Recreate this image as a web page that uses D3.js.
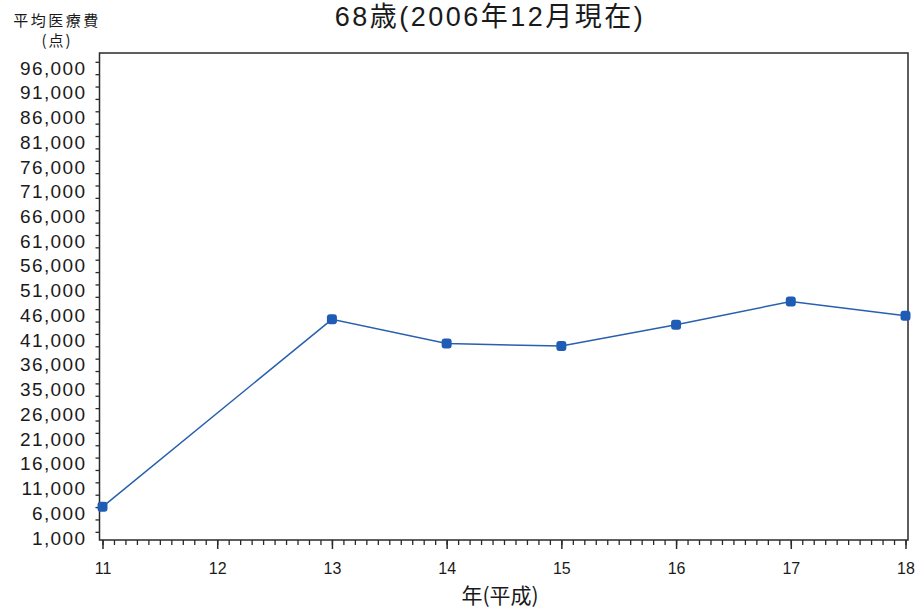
<!DOCTYPE html>
<meta charset="utf-8">
<html>
  <head>
    <script src="https://cdn.jsdelivr.net/npm/d3@7"></script>
    <style>
      body { margin: 0; background: #fff; }
    </style>
  </head>
  <body>
    <div id="chart"></div>

    <script type="text/javascript">
      // data
      var years = [11, 13, 14, 15, 16, 17, 18],
          values = [7300, 45200, 40300, 39800, 44100, 48800, 45900];

      // y labels as printed (note "35,000" stands where 31,000 would be)
      var yTickValues = [1000, 6000, 11000, 16000, 21000, 26000, 31000, 36000, 41000, 46000,
                         51000, 56000, 61000, 66000, 71000, 76000, 81000, 86000, 91000, 96000],
          yTickLabels = ["1,000", "6,000", "11,000", "16,000", "21,000", "26,000", "35,000", "36,000", "41,000", "46,000",
                         "51,000", "56,000", "61,000", "66,000", "71,000", "76,000", "81,000", "86,000", "91,000", "96,000"],
          xTickValues = [11, 12, 13, 14, 15, 16, 17, 18];

      var W = 917, H = 612,
          box = { left: 99.5, right: 908, top: 53, bottom: 540 },
          font = "'Liberation Sans', 'Noto Sans CJK JP', sans-serif",
          blue = "#1f5cb4";

      var svg = d3.select("#chart").append("svg")
          .attr("width", W)
          .attr("height", H);

      var x = d3.scaleLinear().domain([11, 18]).range([102.5, 905.5]);
      var y = d3.scaleLinear().domain([1000, 96000]).range([538, 68]);

      // frame
      svg.append("rect")
          .attr("x", box.left).attr("y", box.top)
          .attr("width", box.right - box.left)
          .attr("height", box.bottom - box.top)
          .style("fill", "none")
          .style("stroke", "#2a2a2a")
          .style("stroke-width", "1.5px");

      // y ticks (every 2,500, offset from the labels as in the original)
      var yMinor = d3.axisLeft(y)
          .tickValues(d3.range(2250, 98000, 2500))
          .tickSize(4)
          .tickFormat("");
      svg.append("g")
          .attr("transform", "translate(" + box.left + ",0)")
          .call(yMinor)
          .call(function(g){ g.select(".domain").remove(); })
          .selectAll("line").style("stroke", "#2a2a2a").style("stroke-width", "1.3px");

      // y labels
      var yLab = d3.axisLeft(y)
          .tickValues(yTickValues)
          .tickSize(0)
          .tickPadding(13)
          .tickFormat(function(d, i){ return yTickLabels[i]; });
      svg.append("g")
          .attr("transform", "translate(" + box.left + ",0)")
          .call(yLab)
          .call(function(g){ g.select(".domain").remove(); })
          .selectAll("text")
          .style("font-family", font)
          .style("font-size", "19px")
          .style("letter-spacing", "1.4px")
          .style("fill", "#1a1a1a");

      // x minor ticks
      svg.append("g")
          .attr("transform", "translate(0," + box.bottom + ")")
          .call(d3.axisBottom(x).ticks(70).tickSize(5).tickFormat(""))
          .call(function(g){ g.select(".domain").remove(); })
          .selectAll("line").style("stroke", "#2a2a2a").style("stroke-width", "1.3px");

      // x major ticks + labels
      svg.append("g")
          .attr("transform", "translate(0," + box.bottom + ")")
          .call(d3.axisBottom(x).tickValues(xTickValues).tickSize(9).tickPadding(14).tickFormat(d3.format("d")))
          .call(function(g){ g.select(".domain").remove(); })
          .call(function(g){
            g.selectAll("line").style("stroke", "#2a2a2a").style("stroke-width", "1.5px");
            g.selectAll("text")
              .style("font-family", "'Liberation Sans Narrow', 'Liberation Sans', sans-serif")
              .style("font-size", "16px")
              .style("fill", "#1a1a1a");
          });

      // line + markers
      var pts = years.map(function(d, i){ return [d, values[i]]; });
      svg.append("path")
          .datum(pts)
          .attr("d", d3.line().x(function(d){ return x(d[0]); }).y(function(d){ return y(d[1]); }))
          .style("fill", "none")
          .style("stroke", "#2860ad")
          .style("stroke-width", "1.5px");

      svg.selectAll(".mark")
          .data(pts)
          .enter().append("rect")
          .attr("class", "mark")
          .attr("x", function(d){ return x(d[0]) - 5; })
          .attr("y", function(d){ return y(d[1]) - 5; })
          .attr("width", 10).attr("height", 10)
          .attr("rx", 3)
          .style("fill", blue);

      // titles
      svg.append("text")
          .attr("x", 490).attr("y", 26)
          .style("text-anchor", "middle")
          .style("font-family", font)
          .style("font-size", "27px")
          .style("letter-spacing", "2.5px")
          .style("fill", "#1a1a1a")
          .text("68歳(2006年12月現在)");

      svg.append("text")
          .attr("x", 57).attr("y", 26)
          .style("text-anchor", "middle")
          .style("font-family", "'Noto Sans CJK JP', sans-serif")
          .style("font-size", "15px")
          .style("letter-spacing", "2.5px")
          .style("fill", "#1a1a1a")
          .text("平均医療費");

      svg.append("text")
          .attr("x", 57).attr("y", 46)
          .style("text-anchor", "middle")
          .style("font-family", "'Noto Sans CJK JP', sans-serif")
          .style("font-size", "15px")
          .style("letter-spacing", "2px")
          .style("fill", "#1a1a1a")
          .text("(点)");

      svg.append("text")
          .attr("x", 500).attr("y", 603)
          .style("text-anchor", "middle")
          .style("font-family", "'Noto Sans CJK JP', sans-serif")
          .style("font-size", "21px")
          .style("fill", "#1a1a1a")
          .text("年(平成)");
    </script>
  </body>
</html>
